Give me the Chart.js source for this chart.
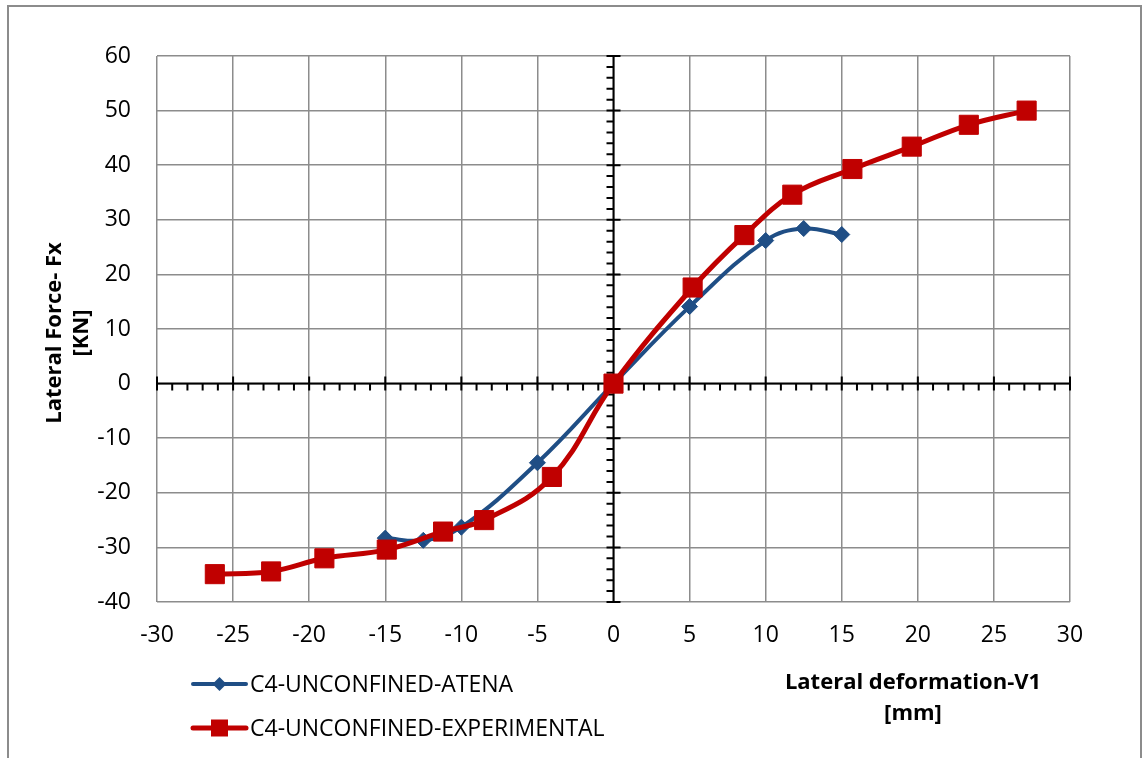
<!DOCTYPE html>
<html>
<head>
<meta charset="utf-8">
<script src="https://cdn.jsdelivr.net/npm/chart.js@4.4.1/dist/chart.umd.min.js"></script>
<style>
  html, body { margin: 0; padding: 0; background: #fff; }
  #wrap { width: 1142px; height: 758px; position: relative; }
</style>
</head>
<body>
<div id="wrap"><canvas id="c" width="1142" height="758"></canvas></div>
<script>
// ---- data ----
const seriesNames = ['C4-UNCONFINED-ATENA', 'C4-UNCONFINED-EXPERIMENTAL'];
const atenaX = [-15, -12.5, -10, -5, 0, 5, 10, 12.5, 15];
const atenaY = [-28.3, -28.7, -26.3, -14.5, 0, 14.1, 26.2, 28.4, 27.3];
const expX = [-26.2, -22.5, -19.0, -14.9, -11.2, -8.5, -4.05, 0, 5.2, 8.6, 11.75, 15.7, 19.6, 23.35, 27.15];
const expY = [-34.9, -34.4, -32.0, -30.4, -27.1, -25.0, -17.1, 0, 17.6, 27.2, 34.6, 39.3, 43.4, 47.4, 50.0];
const xTitle = ['Lateral deformation-V1', '[mm]'];
const yTitle = ['Lateral Force- Fx', '[KN]'];

const FONT = '"Open Sans", sans-serif';
const BLUE = '#1F4E85';
const RED = '#C00000';
const GRID = '#8c8c8c';

function pts(xs, ys) { return xs.map((x, i) => ({ x: x, y: ys[i] })); }

const frame = {
  id: 'frame',
  beforeDraw(chart) {
    const ctx = chart.ctx;
    ctx.save();
    ctx.fillStyle = '#fff';
    ctx.fillRect(0, 0, chart.width, chart.height);
    ctx.strokeStyle = '#8c8c8c';
    ctx.lineWidth = 2;
    ctx.strokeRect(8, 6, 1133, 800);
    ctx.restore();
  }
};

const centerAxes = {
  id: 'centerAxes',
  beforeDatasetsDraw(chart) {
    const ctx = chart.ctx, a = chart.chartArea;
    const xs = chart.scales.x, ys = chart.scales.y;
    const x0 = xs.getPixelForValue(0), y0 = ys.getPixelForValue(0);
    ctx.save();
    ctx.strokeStyle = '#000';
    ctx.lineWidth = 2;
    ctx.beginPath();
    ctx.moveTo(a.left, y0); ctx.lineTo(a.right, y0);
    ctx.moveTo(x0, a.top); ctx.lineTo(x0, a.bottom);
    // x-axis tick marks (major every 5, minor every 1)
    for (let v = xs.min; v <= xs.max; v += 1) {
      const px = xs.getPixelForValue(v);
      if (v % 5 === 0) { ctx.moveTo(px, y0 - 7); ctx.lineTo(px, y0 + 7); }
      else { ctx.moveTo(px, y0); ctx.lineTo(px, y0 + 7); }
    }
    // y-axis tick marks (major every 10, minor every 2)
    for (let v = ys.min; v <= ys.max; v += 2) {
      const py = ys.getPixelForValue(v);
      if (v % 10 === 0) { ctx.moveTo(x0 - 7, py); ctx.lineTo(x0 + 7, py); }
      else { ctx.moveTo(x0 - 7, py); ctx.lineTo(x0, py); }
    }
    ctx.stroke();
    ctx.restore();
  }
};

const annotations = {
  id: 'annotations',
  afterDraw(chart) {
    const ctx = chart.ctx;
    ctx.save();
    ctx.fillStyle = '#000';
    ctx.textAlign = 'center';
    ctx.textBaseline = 'middle';
    ctx.font = 'bold 22px ' + FONT;
    // x title
    ctx.fillText(xTitle[0], 913, 683);
    ctx.fillText(xTitle[1], 913, 714);
    // y title (rotated)
    ctx.save();
    ctx.translate(55, 333);
    ctx.rotate(-Math.PI / 2);
    ctx.fillText(yTitle[0], 0, 0);
    ctx.restore();
    ctx.save();
    ctx.translate(82, 333);
    ctx.rotate(-Math.PI / 2);
    ctx.fillText(yTitle[1], 0, 0);
    ctx.restore();
    // legend
    const items = [
      { ds: chart.data.datasets[0], y: 684 },
      { ds: chart.data.datasets[1], y: 728 }
    ];
    ctx.font = '23px ' + FONT;
    ctx.textAlign = 'left';
    items.forEach(it => {
      const ds = it.ds;
      ctx.strokeStyle = ds.borderColor;
      ctx.lineWidth = ds.borderWidth;
      ctx.lineCap = 'round';
      ctx.beginPath();
      ctx.moveTo(193, it.y); ctx.lineTo(246, it.y);
      ctx.stroke();
      ctx.fillStyle = ds.pointBackgroundColor;
      ctx.strokeStyle = ds.pointBorderColor;
      ctx.lineWidth = 1;
      ctx.beginPath();
      if (ds.pointStyle === 'rect') {
        ctx.rect(219.5 - 8.5, it.y - 8.5, 17, 17);
      } else {
        ctx.moveTo(219.5, it.y - 7); ctx.lineTo(226.5, it.y);
        ctx.lineTo(219.5, it.y + 7); ctx.lineTo(212.5, it.y); ctx.closePath();
      }
      ctx.fill();
      ctx.fillStyle = '#000';
      ctx.fillText(ds.label, 250, it.y + 1);
    });
    ctx.restore();
  }
};

new Chart(document.getElementById('c'), {
  type: 'scatter',
  data: {
    datasets: [
      {
        label: seriesNames[0],
        data: pts(atenaX, atenaY),
        showLine: true,
        borderColor: BLUE,
        backgroundColor: BLUE,
        borderWidth: 4,
        pointStyle: 'rectRot',
        pointRadius: 8,
        pointBackgroundColor: BLUE,
        pointBorderColor: BLUE,
        pointBorderWidth: 1,
        tension: 0.4,
        order: 1
      },
      {
        label: seriesNames[1],
        data: pts(expX, expY),
        showLine: true,
        borderColor: RED,
        backgroundColor: RED,
        borderWidth: 5,
        pointStyle: 'rect',
        pointRadius: 13.5,
        pointBackgroundColor: RED,
        pointBorderColor: RED,
        pointBorderWidth: 1,
        tension: 0.4,
        order: 0
      }
    ]
  },
  options: {
    responsive: false,
    animation: false,
    devicePixelRatio: 1,
    layout: { padding: { left: 0, top: 56, right: 72, bottom: 0 } },
    plugins: { legend: { display: false }, tooltip: { enabled: false } },
    scales: {
      x: {
        type: 'linear', min: -30, max: 30,
        ticks: { stepSize: 5, color: '#000', font: { family: FONT, size: 23 }, padding: 20 },
        grid: { color: GRID, lineWidth: 1.5, drawTicks: false },
        border: { display: false },
        afterFit(s) { s.height = 758 - 602; }
      },
      y: {
        type: 'linear', min: -40, max: 60,
        ticks: { stepSize: 10, color: '#000', font: { family: FONT, size: 23 }, padding: 26 },
        grid: { color: GRID, lineWidth: 1.5, drawTicks: false },
        border: { display: false },
        afterFit(s) { s.width = 157; }
      }
    }
  },
  plugins: [frame, centerAxes, annotations]
});
</script>
</body>
</html>
